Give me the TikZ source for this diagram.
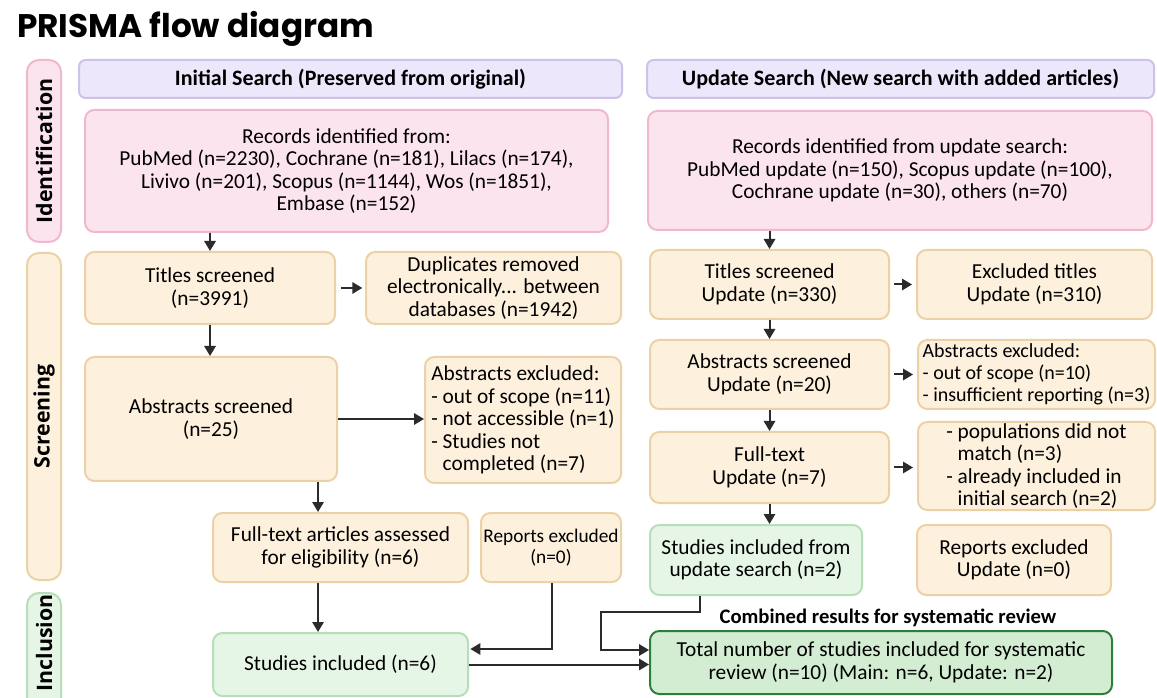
\documentclass[tikz,border=0pt]{standalone}
\usepackage{fontspec}
\setmainfont{Carlito}
\newfontfamily\headfont{Open Sans}
\newfontfamily\titlefont{Poppins}
\usetikzlibrary{arrows.meta}
\definecolor{pinkfill}{HTML}{FCE4EF}
\definecolor{pinkline}{HTML}{F0B8CF}
\definecolor{lavfill}{HTML}{EDE7FB}
\definecolor{lavline}{HTML}{CFC2EA}
\definecolor{begfill}{HTML}{FDF0DD}
\definecolor{begline}{HTML}{EBD2A6}
\definecolor{grnfill}{HTML}{E6F6E6}
\definecolor{grnline}{HTML}{B6DEB8}
\definecolor{totfill}{HTML}{D3EDD3}
\definecolor{totline}{HTML}{2F7D3A}
\definecolor{arrcol}{HTML}{2B2B2B}
% \boxnode{name}{x1}{y1}{x2}{y2}{style}{text}
\newcommand{\boxnode}[7]{\node[#6, minimum width={(#4-#2)*0.75pt}, minimum height={(#5-#3)*0.75pt}] (#1) at ({(#2+#4)/2},{(#3+#5)/2}) {#7};}
\tikzset{
  base/.style={rounded corners=7pt, line width=1.5pt, inner sep=0pt, align=center,
    font=\fontsize{16}{16.8}\selectfont},
  pinkbox/.style={base, fill=pinkfill, draw=pinkline},
  lavbox/.style={base, fill=lavfill, draw=lavline, rounded corners=5pt,
    font=\bfseries\fontsize{16.5}{18}\selectfont},
  begbox/.style={base, fill=begfill, draw=begline},
  grnbox/.style={base, fill=grnfill, draw=grnline},
  totbox/.style={base, fill=totfill, draw=totline},
  phasebox/.style={rounded corners=9pt, line width=1.5pt, inner sep=0pt},
  phasetext/.style={rotate=90, inner sep=0pt, font=\headfont\bfseries\fontsize{16}{18}\selectfont},
  arr/.style={draw=arrcol, line width=1.5pt, -{Triangle[length=7.5pt,width=8.5pt]}},
}
\begin{document}
\begin{tikzpicture}[x=0.75pt,y=-0.75pt]
\useasboundingbox[fill=white] (0,0) rectangle (1157,698);

\node[anchor=base west, inner sep=0pt, font=\titlefont\bfseries\fontsize{24.5}{28}\selectfont] (title) at (17,38) {PRISMA flow diagram};

% phase labels
\boxnode{ph1}{27}{60}{61}{242}{phasebox, fill=pinkfill, draw=pinkline}{}
\node[phasetext] (ph1t) at (ph1.center) {Identification};
\boxnode{ph2}{27}{253}{61}{580}{phasebox, fill=begfill, draw=begline}{}
\node[phasetext] (ph2t) at (ph2.center) {Screening};
\boxnode{ph3}{27}{593}{61}{712}{phasebox, fill=grnfill, draw=grnline}{}
\node[phasetext] (ph3t) at (44,643) {Inclusion};

% headers
\boxnode{h1}{79}{60}{622}{98}{lavbox}{Initial Search (Preserved from original)}
\boxnode{h2}{647}{60}{1154}{98}{lavbox}{Update Search (New search with added articles)}

% initial column
\boxnode{rec1}{85}{110}{608}{232}{pinkbox}{Records identified from:\\PubMed (n=2230), Cochrane (n=181), Lilacs (n=174),\\Livivo (n=201), Scopus (n=1144), Wos (n=1851),\\Embase (n=152)}
\boxnode{tit1}{85}{252}{335}{324}{begbox}{Titles screened\\(n=3991)}
\boxnode{dup1}{366}{252}{621}{324}{begbox}{Duplicates removed\\electronically... between\\databases (n=1942)}
\boxnode{abs1}{85}{357}{337}{481}{begbox}{Abstracts screened\\(n=25)}
\boxnode{exc1}{425}{357}{621}{483}{begbox, align=left}{Abstracts excluded:\\- out of scope (n=11)\\- not accessible (n=1)\\- Studies not\\\phantom{- }completed (n=7)}
\boxnode{full1}{213}{513}{468}{582}{begbox}{Full-text articles assessed\\for eligibility (n=6)}
\boxnode{rep1}{481}{513}{621}{582}{begbox, font=\fontsize{14.5}{16.2}\selectfont}{Reports excluded\\(n=0)}
\boxnode{stud1}{213}{633}{468}{696}{grnbox}{Studies included (n=6)}

% update column
\boxnode{rec2}{648}{111}{1152}{230}{pinkbox}{Records identified from update search:\\PubMed update (n=150), Scopus update (n=100),\\Cochrane update (n=30), others (n=70)}
\boxnode{tit2}{650}{250}{889}{319}{begbox}{Titles screened\\Update (n=330)}
\boxnode{exc2}{917}{250}{1152}{319}{begbox}{Excluded titles\\Update (n=310)}
\boxnode{abs2}{650}{340}{889}{409}{begbox}{Abstracts screened\\Update (n=20)}
\boxnode{aex2}{918}{340}{1155}{409}{begbox, align=left, font=\fontsize{15}{16.6}\selectfont}{Abstracts excluded:\\- out of scope (n=10)\\- insufficient reporting (n=3)}
\boxnode{full2}{650}{432}{889}{503}{begbox}{Full-text\\Update (n=7)}
\boxnode{pop2}{918}{422}{1155}{510}{begbox, align=left}{- populations did not\\\phantom{- }match (n=3)\\- already included in\\\phantom{- }initial search (n=2)}
\boxnode{stud2}{650}{525}{862}{595}{grnbox}{Studies included from\\update search (n=2)}
\boxnode{rep2}{917}{525}{1111}{595}{begbox}{Reports excluded\\Update (n=0)}

\node[font=\bfseries\fontsize{15.5}{17}\selectfont, inner sep=0pt] (comb) at (888,618) {Combined results for systematic review};
\boxnode{tot}{650}{631}{1112}{694}{totbox}{Total number of studies included for systematic\\review (n=10) (Main: n=6, Update: n=2)}

% helper coordinates
\coordinate (xa) at (318,0);
\coordinate (xb) at (552,0);
\coordinate (yb) at (0,649);
\coordinate (xc) at (700,0);
\coordinate (kc) at (601,612);
\coordinate (yc) at (0,650);

% arrows initial
\draw[arr] (tit1.north |- rec1.south) -- (tit1.north);
\draw[arr] (tit1.south) -- (abs1.north -| tit1.south);
\draw[arr] ([xshift=4pt]tit1.east) -- ([xshift=-2pt]dup1.west |- tit1.east);
\draw[arr] (abs1.east) -- (exc1.west |- abs1.east);
\draw[arr] (abs1.south -| xa) -- (full1.north -| xa);
\draw[arr] (full1.south -| xa) -- (stud1.north -| xa);
\draw[arr] (rep1.south -| xb) |- ([xshift=1pt]stud1.east |- yb);
\draw[arr] (stud1.east) -- (tot.west |- stud1.east);

% arrows update
\draw[arr] (tit2.north |- rec2.south) -- (tit2.north);
\draw[arr] ([xshift=3pt]tit2.east) -- ([xshift=-3pt]exc2.west |- tit2.east);
\draw[arr] (tit2.south) -- (abs2.north);
\draw[arr] ([xshift=3pt]abs2.east) -- ([xshift=-3pt]aex2.west |- abs2.east);
\draw[arr] (abs2.south) -- (full2.north);
\draw[arr] ([xshift=3pt]full2.east) -- ([xshift=-3pt]pop2.west |- full2.east);
\draw[arr] (full2.south) -- (stud2.north -| full2.south);
\draw[arr] (stud2.south -| xc) |- (kc) |- (tot.west |- yc);
\end{tikzpicture}
\end{document}
